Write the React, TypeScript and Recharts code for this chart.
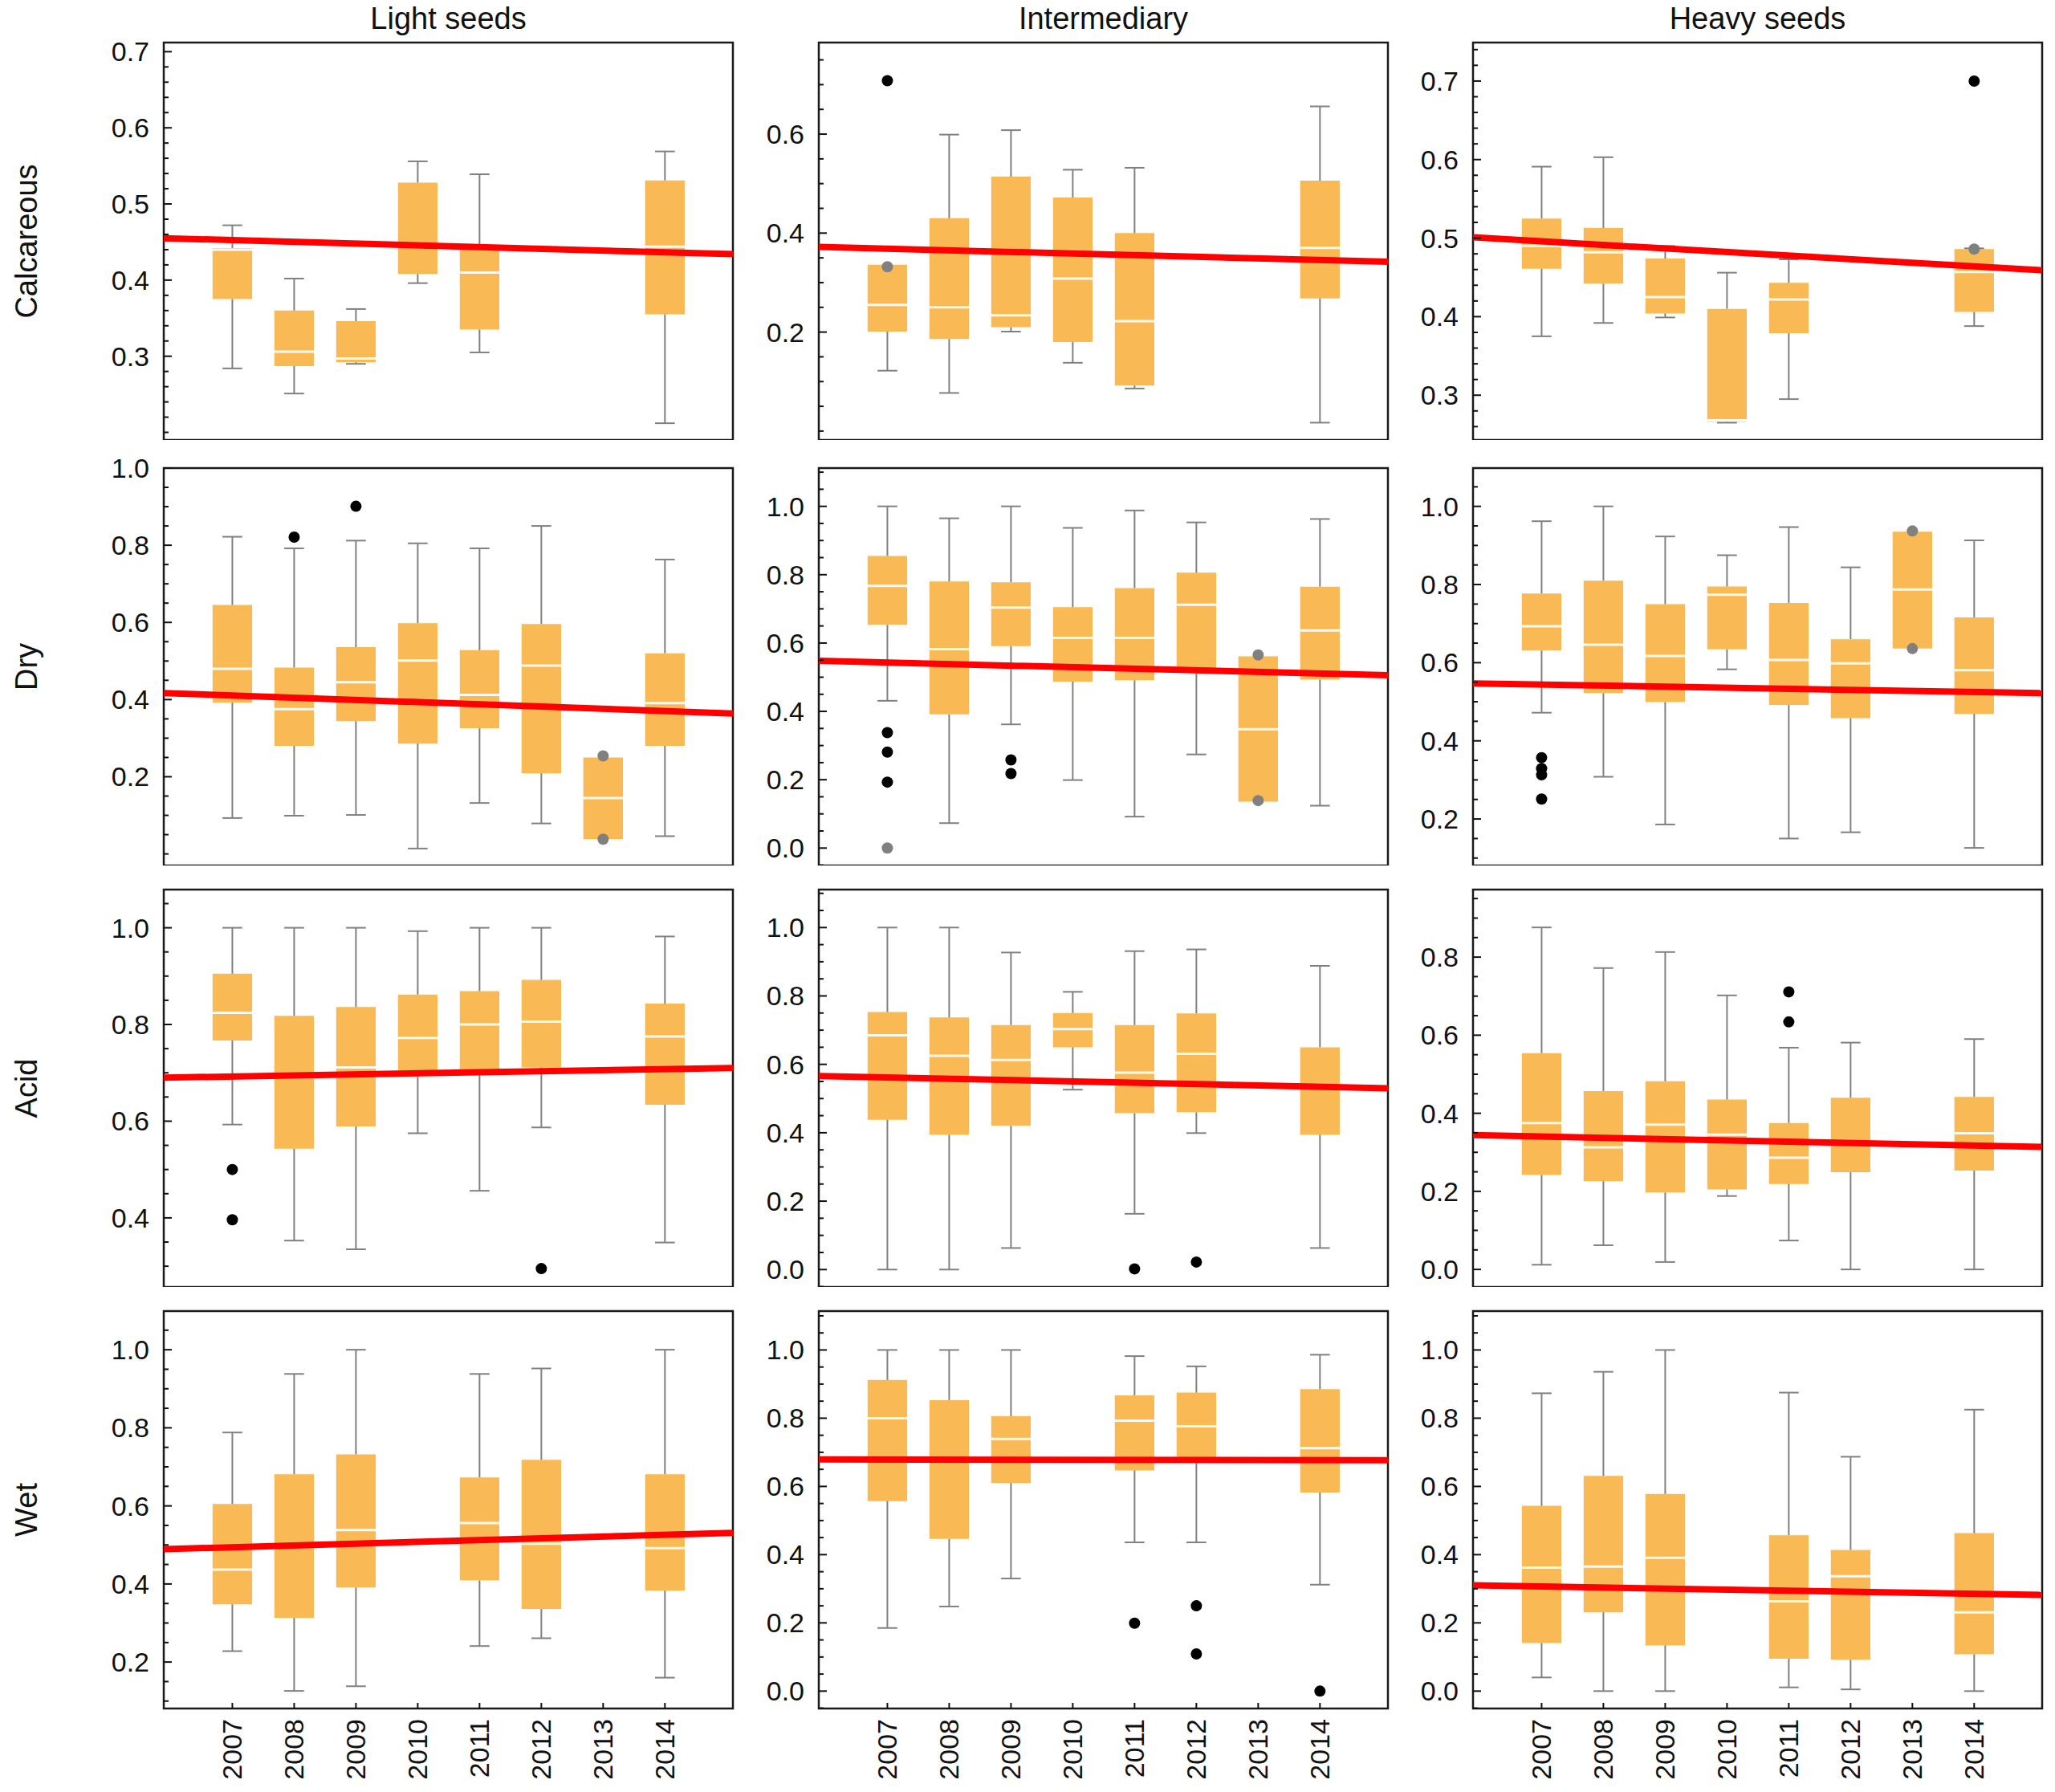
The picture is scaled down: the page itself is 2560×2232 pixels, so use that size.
import React from 'react';
import {
  ComposedChart, XAxis, YAxis, Line, Scatter, ReferenceArea, ReferenceLine,
} from 'recharts';

const YEARS = [2007, 2008, 2009, 2010, 2011, 2012, 2013, 2014];
const SOILS = ['Calcareous', 'Dry', 'Acid', 'Wet'];
const SEED_GROUPS = ['Light seeds', 'Intermediary', 'Heavy seeds'];

// one row per panel (soil x seed group, row by row), one value per year; null = no box that year
const WHISKER_LOW = [
  [0.284, 0.251, 0.290, 0.396, 0.305, null, null, 0.212],
  [0.122, 0.077, 0.201, 0.138, 0.086, null, null, 0.017],
  [0.375, 0.392, 0.399, 0.265, 0.295, null, null, 0.388],
  [0.093, 0.099, 0.101, 0.014, 0.132, 0.079, 0.038, 0.046],
  [0.431, 0.073, 0.362, 0.199, 0.092, 0.274, 0.136, 0.124],
  [0.472, 0.308, 0.186, 0.583, 0.150, 0.166, 0.636, 0.126],
  [0.593, 0.353, 0.335, 0.575, 0.456, 0.587, null, 0.349],
  [0.0, 0.0, 0.063, 0.526, 0.163, 0.399, null, 0.063],
  [0.012, 0.062, 0.019, 0.188, 0.074, 0.0, null, 0.0],
  [0.228, 0.126, 0.138, null, 0.241, 0.261, null, 0.160],
  [0.185, 0.248, 0.330, null, 0.436, 0.436, null, 0.312],
  [0.040, 0.0, 0.0, null, 0.011, 0.005, null, 0.0],
];
const Q1 = [
  [0.375, 0.287, 0.292, 0.408, 0.335, null, null, 0.355],
  [0.201, 0.186, 0.210, 0.180, 0.092, null, null, 0.268],
  [0.461, 0.442, 0.404, 0.266, 0.379, null, null, 0.406],
  [0.392, 0.280, 0.344, 0.286, 0.326, 0.209, 0.038, 0.280],
  [0.653, 0.391, 0.591, 0.487, 0.491, 0.527, 0.136, 0.493],
  [0.631, 0.522, 0.499, 0.634, 0.492, 0.458, 0.636, 0.469],
  [0.767, 0.543, 0.589, 0.705, 0.707, 0.711, null, 0.634],
  [0.438, 0.394, 0.420, 0.650, 0.457, 0.460, null, 0.394],
  [0.242, 0.226, 0.197, 0.205, 0.219, 0.249, null, 0.253],
  [0.348, 0.313, 0.391, null, 0.409, 0.336, null, 0.383],
  [0.557, 0.446, 0.610, null, 0.647, 0.675, null, 0.582],
  [0.141, 0.231, 0.134, null, 0.095, 0.092, null, 0.108],
];
const MEDIAN = [
  [0.440, 0.306, 0.297, 0.445, 0.410, null, null, 0.444],
  [0.255, 0.250, 0.234, 0.308, 0.222, null, null, 0.370],
  [0.490, 0.482, 0.425, 0.268, 0.422, null, null, 0.457],
  [0.480, 0.375, 0.445, 0.501, 0.412, 0.488, 0.145, 0.391],
  [0.767, 0.582, 0.704, 0.615, 0.615, 0.712, 0.348, 0.637],
  [0.693, 0.646, 0.617, 0.774, 0.607, 0.598, 0.787, 0.581],
  [0.824, 0.690, 0.711, 0.772, 0.800, 0.806, null, 0.775],
  [0.685, 0.625, 0.613, 0.703, 0.576, 0.631, null, 0.535],
  [0.375, 0.313, 0.371, 0.345, 0.286, 0.320, null, 0.349],
  [0.437, 0.495, 0.538, null, 0.556, 0.503, null, 0.492],
  [0.800, 0.680, 0.739, null, 0.793, 0.776, null, 0.712],
  [0.362, 0.365, 0.391, null, 0.263, 0.337, null, 0.231],
];
const Q3 = [
  [0.442, 0.360, 0.346, 0.528, 0.443, null, null, 0.531],
  [0.336, 0.430, 0.514, 0.472, 0.400, null, null, 0.506],
  [0.525, 0.513, 0.474, 0.410, 0.443, null, null, 0.486],
  [0.645, 0.483, 0.536, 0.598, 0.528, 0.596, 0.250, 0.520],
  [0.855, 0.780, 0.778, 0.705, 0.761, 0.806, 0.561, 0.765],
  [0.777, 0.810, 0.750, 0.795, 0.753, 0.660, 0.935, 0.716],
  [0.905, 0.818, 0.836, 0.862, 0.869, 0.892, null, 0.843],
  [0.753, 0.737, 0.715, 0.750, 0.715, 0.749, null, 0.650],
  [0.554, 0.457, 0.482, 0.435, 0.375, 0.440, null, 0.442],
  [0.605, 0.681, 0.732, null, 0.673, 0.718, null, 0.681],
  [0.912, 0.853, 0.806, null, 0.867, 0.875, null, 0.885],
  [0.543, 0.631, 0.578, null, 0.457, 0.414, null, 0.463],
];
const WHISKER_HIGH = [
  [0.472, 0.402, 0.362, 0.556, 0.539, null, null, 0.569],
  [0.336, 0.599, 0.608, 0.528, 0.532, null, null, 0.656],
  [0.591, 0.603, 0.490, 0.456, 0.473, null, null, 0.487],
  [0.822, 0.792, 0.812, 0.805, 0.792, 0.850, 0.250, 0.763],
  [1.0, 0.965, 1.0, 0.937, 0.988, 0.953, 0.561, 0.963],
  [0.962, 1.0, 0.923, 0.875, 0.947, 0.844, 0.935, 0.913],
  [1.0, 1.0, 1.0, 0.993, 1.0, 1.0, null, 0.982],
  [1.0, 1.0, 0.927, 0.812, 0.931, 0.936, null, 0.888],
  [0.876, 0.772, 0.813, 0.702, 0.568, 0.581, null, 0.590],
  [0.788, 0.938, 1.0, null, 0.938, 0.952, null, 1.0],
  [1.0, 1.0, 1.0, null, 0.982, 0.952, null, 0.986],
  [0.873, 0.936, 1.0, null, 0.875, 0.687, null, 0.825],
];

// outliers [year, value] per panel: black dots and grey dots
const OUTLIERS: number[][][] = [
  [],
  [[2007, 0.708]],
  [[2014, 0.700]],
  [[2008, 0.821], [2009, 0.901]],
  [[2007, 0.338], [2007, 0.281], [2007, 0.193], [2009, 0.258], [2009, 0.218]],
  [[2007, 0.357], [2007, 0.329], [2007, 0.313], [2007, 0.251]],
  [[2007, 0.500], [2007, 0.396], [2012, 0.295]],
  [[2011, 0.002], [2012, 0.022]],
  [[2011, 0.711], [2011, 0.634]],
  [],
  [[2011, 0.199], [2012, 0.250], [2012, 0.109], [2014, 0.0]],
  [],
];
const EXTREMES: number[][][] = [
  [],
  [[2007, 0.332]],
  [[2014, 0.486]],
  [[2013, 0.254], [2013, 0.038]],
  [[2007, 0.0], [2013, 0.565], [2013, 0.139]],
  [[2013, 0.937], [2013, 0.636]],
  [], [], [], [], [], [],
];

// red regression line, value at the left and right edge of each panel
const TREND_X = [2005.89, 2015.1];
const TREND_FROM = [0.455, 0.372, 0.501, 0.417, 0.548, 0.547, 0.690, 0.566, 0.344, 0.489, 0.679, 0.310];
const TREND_TO = [0.434, 0.342, 0.459, 0.364, 0.506, 0.522, 0.710, 0.530, 0.314, 0.531, 0.677, 0.282];

const Y_DOMAINS = [
  [0.19, 0.712], [-0.018, 0.785], [0.243, 0.749],
  [-0.03, 1.0], [-0.051, 1.112], [0.081, 1.098],
  [0.257, 1.079], [-0.051, 1.111], [-0.045, 0.973],
  [0.081, 1.099], [-0.051, 1.114], [-0.051, 1.114],
];
const Y_LABELS = [
  [0.3, 0.4, 0.5, 0.6, 0.7], [0.2, 0.4, 0.6], [0.3, 0.4, 0.5, 0.6, 0.7],
  [0.2, 0.4, 0.6, 0.8, 1.0], [0.0, 0.2, 0.4, 0.6, 0.8, 1.0], [0.2, 0.4, 0.6, 0.8, 1.0],
  [0.4, 0.6, 0.8, 1.0], [0.0, 0.2, 0.4, 0.6, 0.8, 1.0], [0.0, 0.2, 0.4, 0.6, 0.8],
  [0.2, 0.4, 0.6, 0.8, 1.0], [0.0, 0.2, 0.4, 0.6, 0.8, 1.0], [0.0, 0.2, 0.4, 0.6, 0.8, 1.0],
];
const Y_MINOR_STEP = [0.02, 0.05, 0.02, 0.05, 0.05, 0.05, 0.05, 0.05, 0.05, 0.05, 0.05, 0.05];

// layout
const COL_LEFT = [204, 1020, 1835];
const ROW_TOP = [53, 583, 1108, 1633];
const PLOT_W = 709;
const PLOT_H = 495;
const AXIS_W = 80;
const PAD = 6;
const TOP_PAD = 30;
const X_DOMAIN = [2005.89, 2015.1];
const BOX_HALF = 0.32;
const CAP_HALF = 0.16;

const FONT = '"Liberation Sans", Arial, sans-serif';
const INK = '#111';
const BOX_FILL = '#F9BA55';
const WHISKER = '#808080';
const TICK_FONT = 34;
const TITLE_FONT = 38;

function minorTicks(lo: number, hi: number, step: number) {
  const out: number[] = [];
  for (let k = Math.ceil(lo / step - 1e-6); k * step <= hi + 1e-6; k++) {
    out.push(Math.round(k * step * 1000) / 1000);
  }
  return out;
}

const XTick = (props: any) => {
  const { x, y, payload, showLabel } = props;
  const ly = y + 13;
  return (
    <g>
      <line x1={x} y1={y} x2={x} y2={y - 7} stroke={INK} strokeWidth={2} />
      {showLabel && (
        <text x={x} y={ly} transform={`rotate(-90 ${x} ${ly})`} textAnchor="end"
          dominantBaseline="central" fontSize={TICK_FONT} fontFamily={FONT} fill={INK}>
          {payload.value}
        </text>
      )}
    </g>
  );
};

const YTick = (props: any) => {
  const { x, y, payload, majors } = props;
  const major = majors.some((m: number) => Math.abs(m - payload.value) < 1e-6);
  return (
    <g>
      <line x1={x} y1={y} x2={x + (major ? 10 : 6)} y2={y} stroke={INK} strokeWidth={2} />
      {major && (
        <text x={x - 18} y={y} textAnchor="end" dominantBaseline="central"
          fontSize={TICK_FONT} fontFamily={FONT} fill={INK}>
          {Number(payload.value).toFixed(1)}
        </text>
      )}
    </g>
  );
};

function Panel({ p }: { p: number }) {
  const row = Math.floor(p / 3);
  const col = p % 3;
  const bottom = row === SOILS.length - 1;
  const [y0, y1] = Y_DOMAINS[p];
  const ticks = minorTicks(y0, y1, Y_MINOR_STEP[p]);
  const boxes = YEARS.map((yr, i) => ({
    yr,
    lo: WHISKER_LOW[p][i], q1: Q1[p][i], med: MEDIAN[p][i], q3: Q3[p][i], hi: WHISKER_HIGH[p][i],
  })).filter((b) => b.q1 !== null) as { yr: number; lo: number; q1: number; med: number; q3: number; hi: number }[];
  const outliers = OUTLIERS[p].map(([x, y]) => ({ x, y }));
  const extremes = EXTREMES[p].map(([x, y]) => ({ x, y }));
  const trend = [{ x: TREND_X[0], y: TREND_FROM[p] }, { x: TREND_X[1], y: TREND_TO[p] }];
  const xh = bottom ? 100 : 0;

  return (
    <div style={{ position: 'absolute', left: COL_LEFT[col] - AXIS_W, top: ROW_TOP[row] - TOP_PAD }}>
      <ComposedChart
        width={AXIS_W + PLOT_W + PAD}
        height={TOP_PAD + PLOT_H + xh}
        margin={{ top: TOP_PAD, right: PAD, bottom: 0, left: 0 }}
      >
        <XAxis
          type="number" dataKey="x" domain={X_DOMAIN} allowDataOverflow
          ticks={YEARS} interval={0} height={xh}
          axisLine={false} tickLine={false} tickSize={0} tickMargin={0}
          tick={(tp: any) => <XTick {...tp} showLabel={bottom} />}
        />
        <YAxis
          type="number" dataKey="y" domain={[y0, y1]} allowDataOverflow
          ticks={ticks} interval={0} width={AXIS_W}
          axisLine={false} tickLine={false} tickSize={0} tickMargin={0}
          tick={(tp: any) => <YTick {...tp} majors={Y_LABELS[p]} />}
        />
        {boxes.map((b) => (
          <ReferenceArea key={`box${b.yr}`} x1={b.yr - BOX_HALF} x2={b.yr + BOX_HALF} y1={b.q1} y2={b.q3}
            fill={BOX_FILL} fillOpacity={1} stroke="none" ifOverflow="visible" />
        ))}
        {boxes.filter((b) => b.lo < b.q1).flatMap((b) => [
          <ReferenceLine key={`wl${b.yr}`} segment={[{ x: b.yr, y: b.lo }, { x: b.yr, y: b.q1 }]}
            stroke={WHISKER} strokeWidth={2} ifOverflow="visible" />,
          <ReferenceLine key={`cl${b.yr}`} segment={[{ x: b.yr - CAP_HALF, y: b.lo }, { x: b.yr + CAP_HALF, y: b.lo }]}
            stroke={WHISKER} strokeWidth={2} ifOverflow="visible" />,
        ])}
        {boxes.filter((b) => b.hi > b.q3).flatMap((b) => [
          <ReferenceLine key={`wh${b.yr}`} segment={[{ x: b.yr, y: b.q3 }, { x: b.yr, y: b.hi }]}
            stroke={WHISKER} strokeWidth={2} ifOverflow="visible" />,
          <ReferenceLine key={`ch${b.yr}`} segment={[{ x: b.yr - CAP_HALF, y: b.hi }, { x: b.yr + CAP_HALF, y: b.hi }]}
            stroke={WHISKER} strokeWidth={2} ifOverflow="visible" />,
        ])}
        {boxes.map((b) => (
          <ReferenceLine key={`md${b.yr}`} segment={[{ x: b.yr - BOX_HALF, y: b.med }, { x: b.yr + BOX_HALF, y: b.med }]}
            stroke="#fffaf0" strokeWidth={3} ifOverflow="visible" />
        ))}
        <Line data={trend} dataKey="y" stroke="#ff0000" strokeWidth={8} dot={false}
          isAnimationActive={false} legendType="none" />
        <Scatter data={extremes} isAnimationActive={false}
          shape={(sp: any) => <circle cx={sp.cx} cy={sp.cy} r={7} fill="#808080" />} />
        <Scatter data={outliers} isAnimationActive={false}
          shape={(sp: any) => <circle cx={sp.cx} cy={sp.cy} r={7} fill="#000" />} />
        <ReferenceArea x1={X_DOMAIN[0]} x2={X_DOMAIN[1]} y1={y0} y2={y1}
          fill="none" fillOpacity={0} stroke="#1a1a1a" strokeWidth={2.5} ifOverflow="visible" />
      </ComposedChart>
    </div>
  );
}

export default function App() {
  return (
    <div style={{ position: 'absolute', left: 0, top: 0, width: 2560, height: 2232, background: '#fff' }}>
      <svg width={2560} height={2232} style={{ position: 'absolute', left: 0, top: 0 }}>
        {SEED_GROUPS.map((t, c) => (
          <text key={t} x={COL_LEFT[c] + PLOT_W / 2} y={36} textAnchor="middle"
            fontSize={TITLE_FONT} fontFamily={FONT} fill={INK}>{t}</text>
        ))}
        {SOILS.map((s, r) => {
          const cy = ROW_TOP[r] + PLOT_H / 2;
          return (
            <text key={s} x={46} y={cy} transform={`rotate(-90 46 ${cy})`} textAnchor="middle"
              fontSize={TITLE_FONT} fontFamily={FONT} fill={INK}>{s}</text>
          );
        })}
      </svg>
      {SOILS.flatMap((_, r) => SEED_GROUPS.map((__, c) => <Panel key={`${r}-${c}`} p={r * 3 + c} />))}
    </div>
  );
}
